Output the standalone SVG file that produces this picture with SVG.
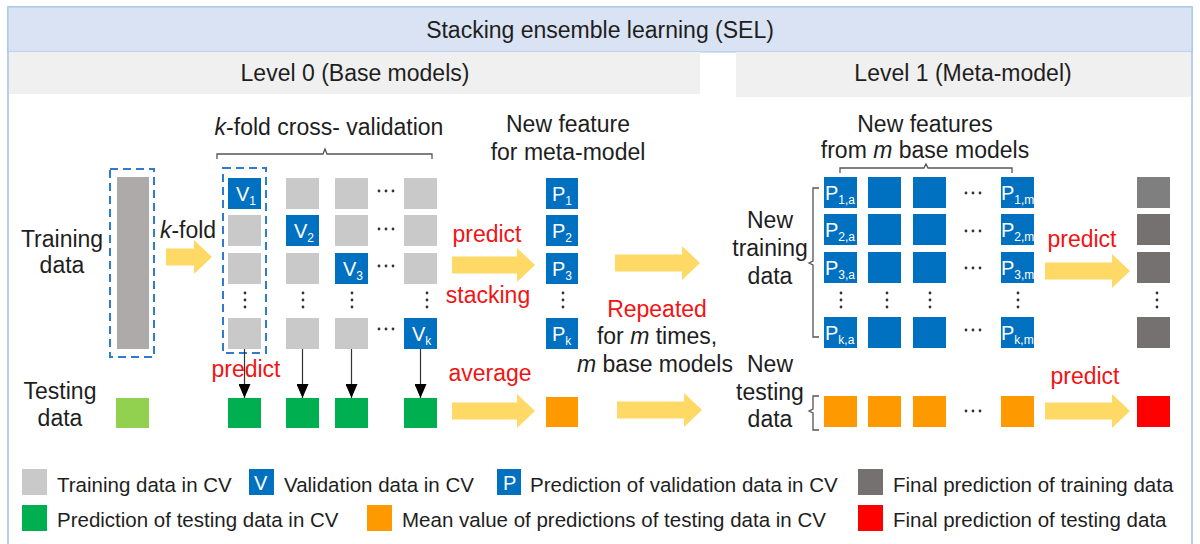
<svg xmlns="http://www.w3.org/2000/svg" width="1200" height="544" viewBox="0 0 1200 544">
<defs>
<style>
text{font-family:"Liberation Sans",Arial,sans-serif;fill:#1e1e1e}
.t{font-size:23px}
.c{text-anchor:middle}
.r{fill:#f01414}
.lg{font-size:20.5px}
.w{fill:#ffffff;font-size:20px}
.ws{font-size:12px}
.gr{fill:#c9c9c9}
.bl{fill:#0070c0}
.gn{fill:#00b050}
.or{fill:#ff9900}
.fg{fill:#767171}
.yl{fill:#ffd966}
.dash{fill:none;stroke:#2e7bd1;stroke-width:2;stroke-dasharray:8 5}
.brace{fill:none;stroke:#555555;stroke-width:1.3}
.dot{fill:#333333}
.ln{stroke:#333333;stroke-width:1.2;fill:none}
</style>
<marker id="ah" viewBox="0 0 14 12" refX="14" refY="6" markerWidth="14" markerHeight="12" markerUnits="userSpaceOnUse" orient="auto">
<path d="M0,0 L14,6 L0,12 Z" fill="#000000"/>
</marker>
<g id="hd"><circle r="1.4" cx="0" cy="0"/><circle r="1.4" cx="7" cy="0"/><circle r="1.4" cx="14" cy="0"/></g>
<g id="vd"><circle r="1.4" cx="0" cy="0"/><circle r="1.4" cx="0" cy="7"/><circle r="1.4" cx="0" cy="14"/></g>
</defs>
<rect x="0" y="0" width="1200" height="544" fill="#ffffff"/>
<g id="frame">
<rect x="8" y="7" width="1184" height="540" fill="none" stroke="#9dc3e6" stroke-width="1.5"/>
<rect x="8" y="7" width="1184" height="45" fill="#dae3f3" stroke="#9dc3e6" stroke-width="1"/>
<rect x="9" y="52" width="691" height="42" fill="#f0f0f0"/>
<rect x="736" y="52" width="455" height="45" fill="#f0f0f0"/>
<text class="t c" x="600" y="38">Stacking ensemble learning (SEL)</text>
<text class="t c" x="355" y="81">Level 0 (Base models)</text>
<text class="t c" x="963" y="81">Level 1 (Meta-model)</text>
</g>
<g id="training-data">
<text class="t c" x="62" y="247">Training</text>
<text class="t c" x="62" y="273">data</text>
<rect x="110" y="169" width="44" height="188" class="dash"/>
<rect x="117" y="177" width="32" height="172" fill="#aeaaaa"/>
</g>
<g id="testing-data">
<text class="t c" x="60" y="399">Testing</text>
<text class="t c" x="60" y="426">data</text>
<rect x="116" y="398" width="33" height="30" fill="#92d050"/>
</g>
<g id="kfold-cv">
<text class="t c" x="329" y="135"><tspan font-style="italic">k</tspan>-fold cross- validation</text>
<path class="brace" d="M217,159 L217,154 L323,154 L325,149 L327,154 L432,154 L432,159"/>
<rect x="223" y="168" width="43" height="185" class="dash"/>
<rect class="bl" x="228" y="178" width="33" height="31"/>
<text class="w" x="236" y="201">V<tspan class="ws" dy="4">1</tspan></text>
<rect class="gr" x="228" y="215" width="33" height="31"/>
<rect class="gr" x="228" y="253" width="33" height="31"/>
<rect class="gr" x="228" y="318" width="33" height="31"/>
<rect class="gr" x="286" y="178" width="33" height="31"/>
<rect class="bl" x="286" y="215" width="33" height="31"/>
<text class="w" x="294" y="238">V<tspan class="ws" dy="4">2</tspan></text>
<rect class="gr" x="286" y="253" width="33" height="31"/>
<rect class="gr" x="286" y="318" width="33" height="31"/>
<rect class="gr" x="335" y="178" width="33" height="31"/>
<rect class="gr" x="335" y="215" width="33" height="31"/>
<rect class="bl" x="335" y="253" width="33" height="31"/>
<text class="w" x="343" y="276">V<tspan class="ws" dy="4">3</tspan></text>
<rect class="gr" x="335" y="318" width="33" height="31"/>
<rect class="gr" x="404" y="178" width="33" height="31"/>
<rect class="gr" x="404" y="215" width="33" height="31"/>
<rect class="gr" x="404" y="253" width="33" height="31"/>
<rect class="bl" x="404" y="318" width="33" height="31"/>
<text class="w" x="412" y="341">V<tspan class="ws" dy="4">k</tspan></text>
<g class="dot">
<use href="#hd" x="379" y="191"/><use href="#hd" x="379" y="229"/><use href="#hd" x="379" y="266"/><use href="#hd" x="379" y="329"/>
<use href="#vd" x="245" y="293"/><use href="#vd" x="303" y="293"/><use href="#vd" x="352" y="293"/><use href="#vd" x="427" y="293"/>
</g>
<text class="t c r" x="246" y="377">predict</text>
</g>
<g id="cv-test-predictions">
<rect class="gn" x="228" y="398" width="33" height="30"/>
<rect class="gn" x="286" y="398" width="33" height="30"/>
<rect class="gn" x="335" y="398" width="33" height="30"/>
<rect class="gn" x="404" y="398" width="33" height="30"/>
</g>
<g id="new-feature">
<text class="t c" x="568" y="132">New feature</text>
<text class="t c" x="568" y="160">for meta-model</text>
<rect class="bl" x="546" y="178" width="32" height="31"/>
<text class="w" x="552" y="201">P<tspan class="ws" dy="4">1</tspan></text>
<rect class="bl" x="546" y="215" width="32" height="31"/>
<text class="w" x="552" y="238">P<tspan class="ws" dy="4">2</tspan></text>
<rect class="bl" x="546" y="253" width="32" height="31"/>
<text class="w" x="552" y="276">P<tspan class="ws" dy="4">3</tspan></text>
<rect class="bl" x="546" y="318" width="32" height="31"/>
<text class="w" x="552" y="341">P<tspan class="ws" dy="4">k</tspan></text>
<g class="dot"><use href="#vd" x="563" y="293"/></g>
<text class="t c r" x="487" y="242">predict</text>
<text class="t c r" x="488" y="303">stacking</text>
</g>
<g id="mean-test">
<rect class="or" x="546" y="397" width="32" height="30"/>
<text class="t c r" x="490" y="381">average</text>
</g>
<g id="repeat-note">
<text class="t c r" x="657" y="317">Repeated</text>
<text class="t c" x="657" y="344">for <tspan font-style="italic">m</tspan> times,</text>
<text class="t c" x="655" y="372"><tspan font-style="italic">m</tspan> base models</text>
</g>
<g id="new-training-data">
<text class="t c" x="770" y="228">New</text>
<text class="t c" x="770" y="256">training</text>
<text class="t c" x="770" y="284">data</text>
<path class="brace" d="M819,188 L813,188 L813,261 L809,263 L813,265 L813,337 L819,337"/>
<text class="t c" x="925" y="132">New features</text>
<text class="t c" x="925" y="158">from <tspan font-style="italic">m</tspan> base models</text>
<path class="brace" d="M840,173 L840,168 L924,168 L926,164 L928,168 L1012,168 L1012,173"/>
<rect class="bl" x="824" y="177" width="33" height="31"/>
<text class="w" x="825" y="200">P<tspan class="ws" dy="4">1,a</tspan></text>
<rect class="bl" x="824" y="214" width="33" height="31"/>
<text class="w" x="825" y="237">P<tspan class="ws" dy="4">2,a</tspan></text>
<rect class="bl" x="824" y="252" width="33" height="31"/>
<text class="w" x="825" y="275">P<tspan class="ws" dy="4">3,a</tspan></text>
<rect class="bl" x="824" y="317" width="33" height="31"/>
<text class="w" x="825" y="340">P<tspan class="ws" dy="4">k,a</tspan></text>
<rect class="bl" x="868" y="177" width="33" height="31"/>
<rect class="bl" x="868" y="214" width="33" height="31"/>
<rect class="bl" x="868" y="252" width="33" height="31"/>
<rect class="bl" x="868" y="317" width="33" height="31"/>
<rect class="bl" x="913" y="177" width="33" height="31"/>
<rect class="bl" x="913" y="214" width="33" height="31"/>
<rect class="bl" x="913" y="252" width="33" height="31"/>
<rect class="bl" x="913" y="317" width="33" height="31"/>
<rect class="bl" x="1001" y="177" width="33" height="31"/>
<text class="w" x="1001" y="200">P<tspan class="ws" dy="4">1,m</tspan></text>
<rect class="bl" x="1001" y="214" width="33" height="31"/>
<text class="w" x="1001" y="237">P<tspan class="ws" dy="4">2,m</tspan></text>
<rect class="bl" x="1001" y="252" width="33" height="31"/>
<text class="w" x="1001" y="275">P<tspan class="ws" dy="4">3,m</tspan></text>
<rect class="bl" x="1001" y="317" width="33" height="31"/>
<text class="w" x="1001" y="340">P<tspan class="ws" dy="4">k,m</tspan></text>
<g class="dot">
<use href="#hd" x="966" y="193"/><use href="#hd" x="966" y="231"/><use href="#hd" x="966" y="268"/><use href="#hd" x="966" y="330"/>
<use href="#vd" x="841" y="293"/><use href="#vd" x="887" y="293"/><use href="#vd" x="930" y="293"/><use href="#vd" x="1018" y="293"/>
</g>
</g>
<g id="new-testing-data">
<text class="t c" x="770" y="372">New</text>
<text class="t c" x="770" y="400">testing</text>
<text class="t c" x="770" y="427">data</text>
<path class="brace" d="M819,396 L813,396 L813,409 L809,411 L813,413 L813,430 L819,430"/>
<rect class="or" x="824" y="396" width="33" height="31"/>
<rect class="or" x="868" y="396" width="33" height="31"/>
<rect class="or" x="913" y="396" width="33" height="31"/>
<rect class="or" x="1001" y="396" width="33" height="31"/>
<g class="dot"><use href="#hd" x="966" y="411"/></g>
</g>
<g id="final-training-prediction">
<rect x="1137" y="177" width="33" height="31" fill="#7f7f7f"/>
<rect class="fg" x="1137" y="214" width="33" height="31"/>
<rect class="fg" x="1137" y="252" width="33" height="31"/>
<rect class="fg" x="1137" y="317" width="33" height="31"/>
<g class="dot"><use href="#vd" x="1157" y="293"/></g>
<text class="t c r" x="1082" y="247">predict</text>
</g>
<g id="final-testing-prediction">
<rect x="1137" y="396" width="33" height="31" fill="#ff0000"/>
<text class="t c r" x="1085" y="384">predict</text>
</g>
<g id="connectors">
<line class="ln" x1="244.5" y1="349" x2="244.5" y2="398" marker-end="url(#ah)"/>
<line class="ln" x1="302.5" y1="349" x2="302.5" y2="398" marker-end="url(#ah)"/>
<line class="ln" x1="351.5" y1="349" x2="351.5" y2="398" marker-end="url(#ah)"/>
<line class="ln" x1="420.5" y1="349" x2="420.5" y2="398" marker-end="url(#ah)"/>
<path class="yl" d="M166,248.5 L194,248.5 L194,240 L212,257 L194,274 L194,265.5 L166,265.5 Z"/>
<path class="yl" d="M452,256.5 L517,256.5 L517,248 L535,265 L517,282 L517,273.5 L452,273.5 Z"/>
<path class="yl" d="M615,254.5 L682,254.5 L682,246 L700,263 L682,280 L682,271.5 L615,271.5 Z"/>
<path class="yl" d="M452,402.5 L517,402.5 L517,394 L535,411 L517,428 L517,419.5 L452,419.5 Z"/>
<path class="yl" d="M617,401.5 L684,401.5 L684,393 L702,410 L684,427 L684,418.5 L617,418.5 Z"/>
<path class="yl" d="M1045,262.5 L1112,262.5 L1112,254 L1130,271 L1112,288 L1112,279.5 L1045,279.5 Z"/>
<path class="yl" d="M1045,402.5 L1112,402.5 L1112,394 L1130,411 L1112,428 L1112,419.5 L1045,419.5 Z"/>
<text class="t c" x="188" y="238"><tspan font-style="italic">k</tspan>-fold</text>
</g>
<g id="legend">
<rect class="gr" x="22" y="469" width="25" height="26"/>
<text class="lg" x="57" y="492">Training data in CV</text>
<rect class="bl" x="249" y="469" width="25" height="26"/>
<text class="w" x="254" y="490" font-size="18">V</text>
<text class="lg" x="284" y="492">Validation data in CV</text>
<rect class="bl" x="497" y="469" width="24" height="26"/>
<text class="w" x="503" y="490" font-size="18">P</text>
<text class="lg" x="530" y="492">Prediction of validation data in CV</text>
<rect class="fg" x="858" y="469" width="25" height="26"/>
<text class="lg" x="893" y="492">Final prediction of training data</text>
<rect class="gn" x="22" y="505" width="25" height="26"/>
<text class="lg" x="57" y="527">Prediction of testing data in CV</text>
<rect class="or" x="367" y="505" width="25" height="26"/>
<text class="lg" x="402" y="527">Mean value of predictions of testing data in CV</text>
<rect x="858" y="505" width="25" height="26" fill="#ff0000"/>
<text class="lg" x="893" y="527">Final prediction of testing data</text>
</g>
</svg>
